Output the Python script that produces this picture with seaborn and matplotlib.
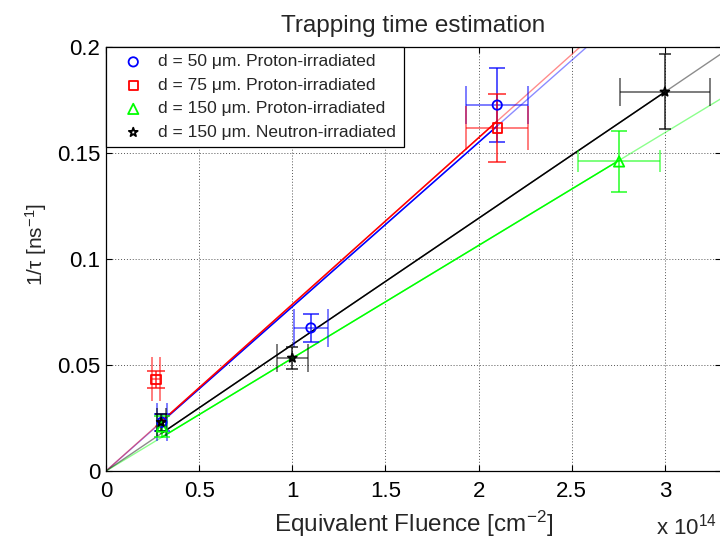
import numpy as np
import pandas as pd
import matplotlib
matplotlib.use("Agg")
import matplotlib.pyplot as plt
import seaborn as sns

# ---------------- data ----------------
labels = ["d = 50 μm. Proton-irradiated",
          "d = 75 μm. Proton-irradiated",
          "d = 150 μm. Proton-irradiated",
          "d = 150 μm. Neutron-irradiated"]

blue_x = [0.30, 1.10, 2.10]
blue_y = [0.023, 0.0675, 0.1726]
blue_xerr = [0.025, 0.089, 0.166]
blue_yerr = [0.004, 0.0066, 0.0175]

red_x = [0.268, 2.10]
red_y = [0.0432, 0.1618]
red_xerr = [0.022, 0.166]
red_yerr = [0.0042, 0.016]

green_x = [0.30, 2.754]
green_y = [0.021, 0.146]
green_xerr = [0.025, 0.22]
green_yerr = [0.005, 0.0146]

black_x = [0.296, 1.00, 3.00]
black_y = [0.023, 0.0533, 0.1788]
black_xerr = [0.024, 0.082, 0.24]
black_yerr = [0.004, 0.0053, 0.0177]

fit_slopes = [0.0775, 0.0786, 0.0532, 0.0596]

xticks = [0, 0.5, 1, 1.5, 2, 2.5, 3]
xticklabels = ["0", "0.5", "1", "1.5", "2", "2.5", "3"]
yticks = [0, 0.05, 0.1, 0.15, 0.2]
yticklabels = ["0", "0.05", "0.1", "0.15", "0.2"]

# ---------------- style ----------------
sns.set_style("ticks")
plt.rcParams['font.family'] = ['Liberation Sans', 'DejaVu Sans']
plt.rcParams['mathtext.fontset'] = 'custom'
plt.rcParams['mathtext.rm'] = 'Liberation Sans'
plt.rcParams['mathtext.it'] = 'Liberation Sans:italic'
plt.rcParams['mathtext.bf'] = 'Liberation Sans:bold'

fig = plt.figure(figsize=(7.2, 5.4), dpi=100)
XMAX = 3.3
ax_w = XMAX * 186.3 / 720
ax = fig.add_axes([106 / 720, 1 - 471 / 540, ax_w, 424 / 540])

colors = ["#0000ff", "#ff0000", "#00ff00", "#000000"]
markers = ["o", "s", "^", "*"]
msizes = [45, 45, 55, 45]
series = [
    (blue_x, blue_y, blue_xerr, blue_yerr),
    (red_x, red_y, red_xerr, red_yerr),
    (green_x, green_y, green_xerr, green_yerr),
    (black_x, black_y, black_xerr, black_yerr),
]
xcaps = [14, 16, 8, 10]
ycaps = [5.6, 6.4, 6, 4.2]

ax.set_xlim(0, XMAX)
ax.set_ylim(0, 0.2)

# fit lines
xfull = np.array([0, XMAX])
for (sx, sy, sxe, sye), slope, c in zip(series, fit_slopes, colors):
    ext = pd.DataFrame({"x": xfull, "y": slope * xfull})
    sns.lineplot(data=ext, x="x", y="y", color=c, alpha=0.45, lw=1.0, ax=ax, legend=False)
    xr = np.array([min(sx), max(sx)])
    main = pd.DataFrame({"x": xr, "y": slope * xr})
    sns.lineplot(data=main, x="x", y="y", color=c, lw=1.1, ax=ax, legend=False)

# error bars
for (sx, sy, sxe, sye), c, xc, yc in zip(series, colors, xcaps, ycaps):
    ax.errorbar(sx, sy, xerr=sxe, fmt="none", ecolor=c, elinewidth=1.1,
                capsize=xc, capthick=1.1, alpha=0.65)
    ax.errorbar(sx, sy, yerr=sye, fmt="none", ecolor=c, elinewidth=1.1,
                capsize=yc, capthick=1.1, alpha=0.85)

# markers
for (sx, sy, sxe, sye), c, m, s, lab in zip(series, colors, markers, msizes, labels):
    df = pd.DataFrame({"x": sx, "y": sy})
    sns.scatterplot(data=df, x="x", y="y", marker=m, s=s, facecolors="none",
                    edgecolor=c, linewidth=1.3, ax=ax, label=lab, legend=False,
                    zorder=5)

ax.set_xticks(xticks)
ax.set_xticklabels(xticklabels)
ax.set_yticks(yticks)
ax.set_yticklabels(yticklabels)
ax.tick_params(direction="in", length=4, width=0.8, top=True, right=True,
               labelsize=16, colors="black")
ax.tick_params(axis="x", pad=7)
ax.tick_params(axis="y", pad=4)
for sp in ax.spines.values():
    sp.set_visible(True)
    sp.set_color("black")
    sp.set_linewidth(0.9)

ax.grid(True, linestyle=(0, (1, 2)), color="#555555", linewidth=0.7)
ax.set_axisbelow(True)

ax.set_xlabel("Equivalent Fluence [cm$^{-2}$]", fontsize=17.5, labelpad=5)
ax.set_ylabel("1/τ [ns$^{-1}$]", fontsize=15)
ax.yaxis.set_label_coords(-0.093, 0.535)
ax.set_title("Trapping time estimation", fontsize=17.5, pad=11)

fig.text(656 / 720, 1 - 527 / 540, "x 10$^{14}$", fontsize=16, ha="left", va="center")

leg = ax.legend(loc="upper left", borderaxespad=0.0, fancybox=False,
                edgecolor="black", framealpha=1, fontsize=12.5,
                handletextpad=0.3, labelspacing=0.48, borderpad=0.42,
                handlelength=2.3)
leg.get_frame().set_linewidth(0.9)

fig.savefig("out.png", dpi=100)
